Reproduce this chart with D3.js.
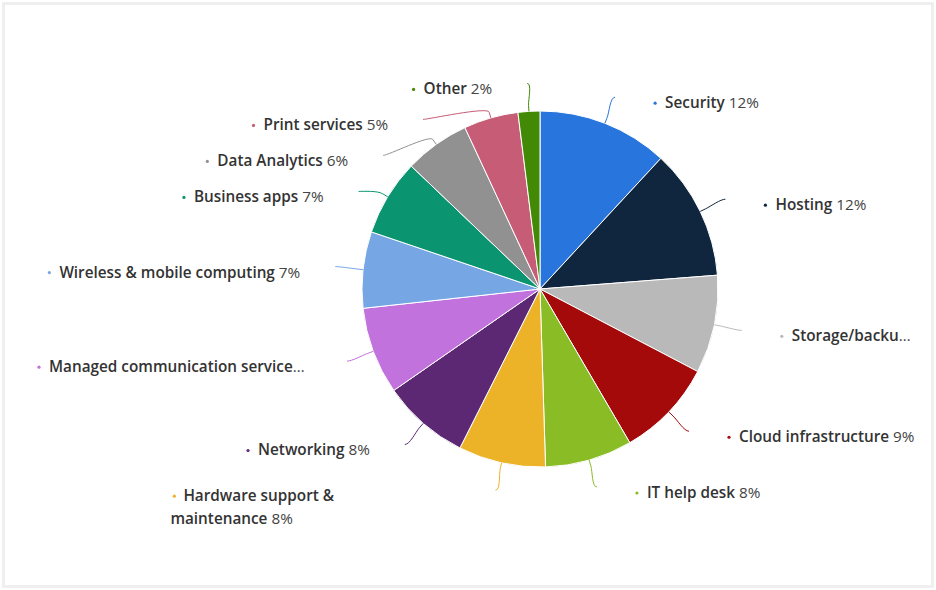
<!DOCTYPE html>
<html>
<head>
<meta charset="utf-8">
<script src="https://cdn.jsdelivr.net/npm/d3@7"></script>
<style>
  html, body { margin: 0; padding: 0; background: #fff; }
  svg { display: block; font-family: "Open Sans", sans-serif; }
</style>
</head>
<body>
<div id="chart-container"></div>
<script>
const categories = [
  "Security", "Hosting", "Storage/backup", "Cloud infrastructure", "IT help desk",
  "Hardware support & maintenance", "Networking", "Managed communication services",
  "Wireless & mobile computing", "Business apps", "Data Analytics", "Print services", "Other"
];
const shares = [12, 12, 9, 9, 8, 8, 8, 8, 7, 7, 6, 5, 2];
const colors = [
  "#2876dd", "#10263e", "#b9b9b9", "#a50a0a", "#8abc26",
  "#ecb328", "#5c2874", "#c272dc", "#76a6e4", "#0a9470",
  "#919191", "#c65c76", "#428a06"
];

function makeChart() {
  const W = 936, H = 590;
  const cx = 540, cy = 289, r = 178;
  const R = r + 28;          // label circle
  const minGap = 36;         // min vertical distance between labels on one side
  const fontSize = 15.3;
  const wrapAt = 270;        // labels wider than this get wrapped
  const wrapWidth = 200;
  const lineH = 23;

  const svg = d3.select("#chart-container")
    .append("svg")
    .attr("width", W)
    .attr("height", H);

  // light frame
  svg.append("rect")
    .attr("x", 3.5).attr("y", 3.5)
    .attr("width", W - 7).attr("height", H - 7)
    .attr("fill", "none")
    .attr("stroke", "#efefef")
    .attr("stroke-width", 3);

  const data = categories.map((c, i) => ({ name: c, value: shares[i], color: colors[i] }));
  const arcs = d3.pie().sort(null).value(d => d.value)(data);
  const arc = d3.arc().innerRadius(0).outerRadius(r);

  const g = svg.append("g").attr("transform", "translate(" + cx + "," + cy + ")");

  g.selectAll("path.slice")
    .data(arcs)
    .enter()
    .append("path")
    .attr("class", "slice")
    .attr("d", arc)
    .attr("fill", d => d.data.color)
    .attr("stroke", "#fff")
    .attr("stroke-width", 1);

  const pt = (a, rho) => [Math.sin(a) * rho, -Math.cos(a) * rho];

  const labels = arcs.map(d => {
    const a = (d.startAngle + d.endAngle) / 2;
    return { d, a, side: Math.sin(a) >= 0 ? 1 : -1, y: -Math.cos(a) * R };
  });

  // push overlapping labels down
  [1, -1].forEach(side => {
    const list = labels.filter(l => l.side === side).sort((p, q) => p.y - q.y);
    for (let i = 1; i < list.length; i++) {
      if (list[i].y < list[i - 1].y + minGap) list[i].y = list[i - 1].y + minGap;
    }
  });
  labels.forEach(l => { l.x = l.side * Math.sqrt(Math.max(0, R * R - l.y * l.y)); });

  // connectors
  g.selectAll("path.connector")
    .data(labels)
    .enter()
    .append("path")
    .attr("class", "connector")
    .attr("fill", "none")
    .attr("stroke", l => l.d.data.color)
    .attr("stroke-width", 1)
    .attr("d", l => {
      const t = pt(l.a, r), b = pt(l.a, r + 6);
      const p = d3.path();
      p.moveTo(l.x, l.y);
      p.bezierCurveTo(l.x - l.side * 5, l.y, 2 * b[0] - t[0], 2 * b[1] - t[1], b[0], b[1]);
      p.lineTo(t[0], t[1]);
      return p.toString();
    });

  const leftLimit = 49 - cx, rightLimit = 918 - cx;

  function fillLine(text, tokens) {
    text.selectAll("tspan").remove();
    tokens.forEach((tk, i) => {
      text.append("tspan")
        .attr("font-weight", tk.bold ? 600 : 400)
        .attr("fill", tk.bold ? "#333" : "#444")
        .text((i > 0 && !tk.glue ? " " : "") + tk.s);
    });
    return text.node().getComputedTextLength();
  }

  // first n characters of the label, then an ellipsis
  function truncTokens(tokens, n) {
    const out = [];
    let left = n;
    tokens.forEach((tk, i) => {
      const sep = i > 0 ? 1 : 0;
      if (left <= sep) { left = 0; return; }
      const len = tk.s.length + sep;
      if (len <= left) { out.push(tk); left -= len; }
      else { out.push({ s: tk.s.slice(0, left - sep), bold: tk.bold }); left = 0; }
    });
    out.push({ s: "…", bold: false, glue: true });
    return out;
  }

  const lg = g.append("g").attr("font-size", fontSize);

  labels.forEach(l => {
    const col = l.d.data.color;
    const tokens = l.d.data.name.split(" ").map(s => ({ s, bold: true }));
    tokens.push({ s: l.d.data.value + "%", bold: false });

    const grp = lg.append("g");
    const t0 = grp.append("text");
    let w = fillLine(t0, tokens);
    const anchorX = l.side > 0 ? l.x + 50 : l.x - 35;
    let textX = l.side > 0 ? anchorX : anchorX - w;
    const baseY = l.y + 11;

    const fits = l.side > 0 ? textX + w <= rightLimit : textX >= leftLimit;

    if (!fits) {
      const avail = l.side > 0 ? rightLimit - textX : anchorX - leftLimit;
      let n = tokens.map(tk => tk.s).join(" ").length;
      while (n > 1) {
        n--;
        w = fillLine(t0, truncTokens(tokens, n));
        if (w <= avail) break;
      }
      if (l.side < 0) textX = leftLimit;
      t0.attr("x", textX).attr("y", baseY);
      grp.append("circle").attr("cx", textX - 10).attr("cy", baseY - 5).attr("r", 1.6).attr("fill", col);
    } else if (w > wrapAt) {
      // wrap into lines, keeping the unwrapped left edge
      const lines = [];
      let cur = [];
      tokens.forEach(tk => {
        const trial = cur.concat([tk]);
        const tw = fillLine(t0, trial);
        if (tw > wrapWidth && cur.length) { lines.push(cur); cur = [tk]; }
        else cur = trial;
      });
      if (cur.length) lines.push(cur);
      t0.remove();
      lines.forEach((ln, i) => {
        const t = grp.append("text")
          .attr("x", i === 0 ? textX : textX - 13)
          .attr("y", baseY + i * lineH);
        fillLine(t, ln);
      });
      grp.append("circle").attr("cx", textX - 9).attr("cy", baseY - 5).attr("r", 1.6).attr("fill", col);
    } else {
      t0.attr("x", textX).attr("y", baseY);
      grp.append("circle").attr("cx", textX - 10).attr("cy", baseY - 5).attr("r", 1.6).attr("fill", col);
    }
  });
}

makeChart();
</script>
</body>
</html>
